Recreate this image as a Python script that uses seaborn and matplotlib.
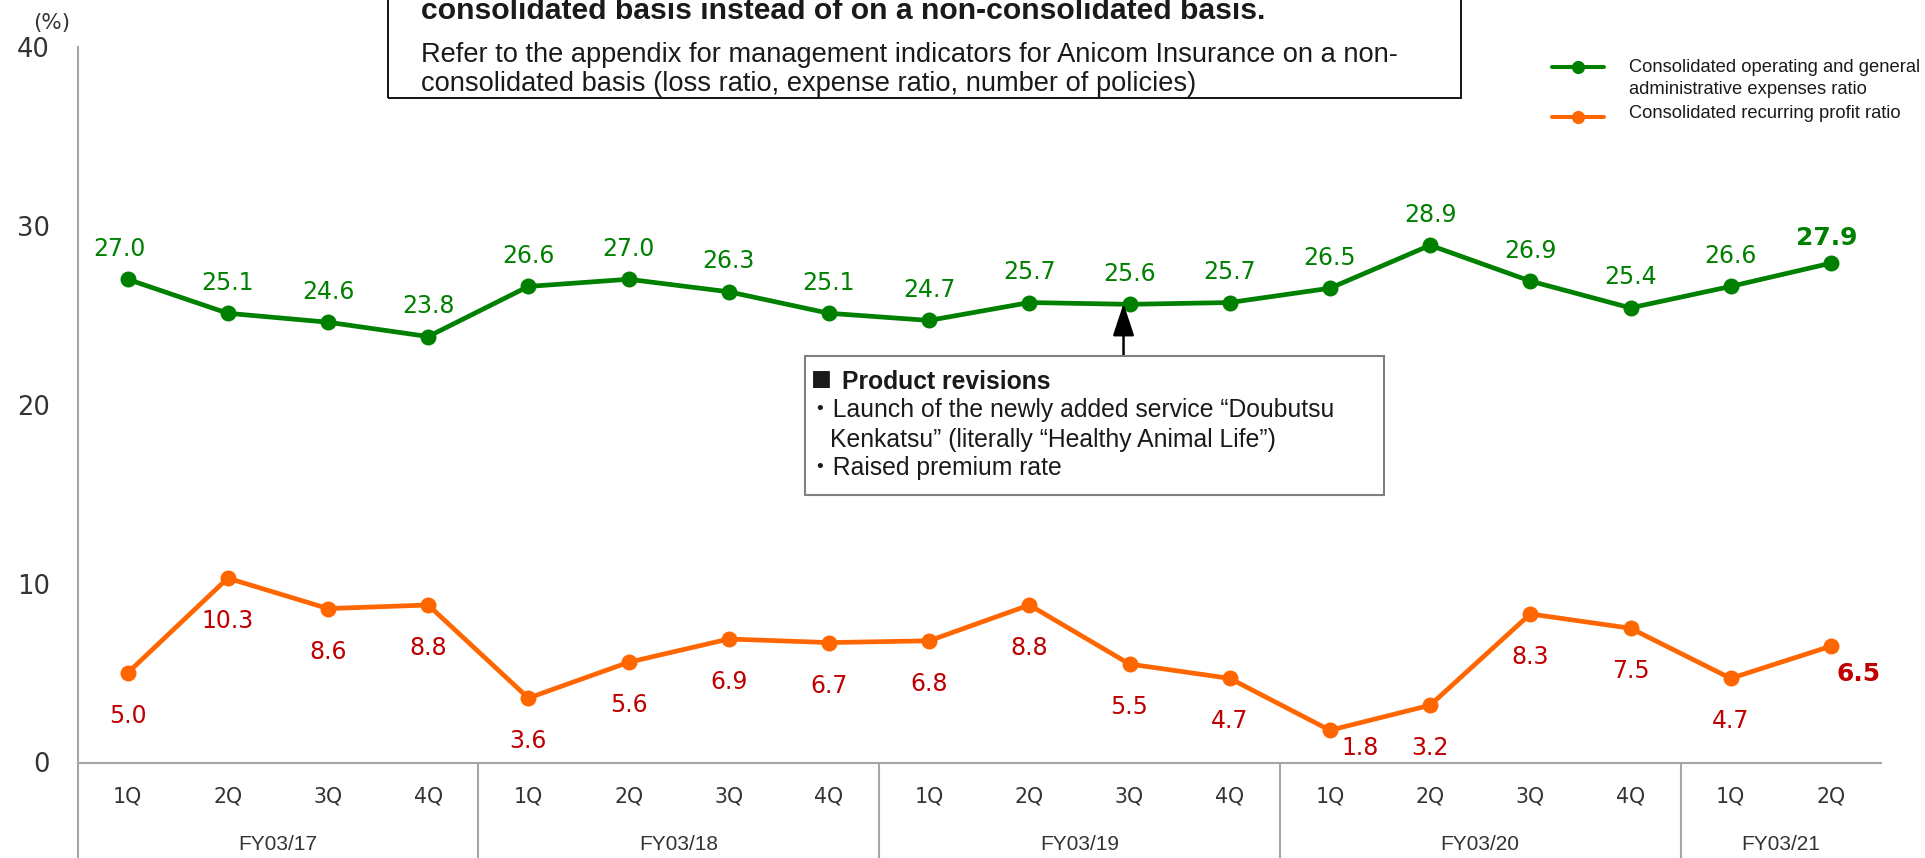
import matplotlib
matplotlib.use("Agg")
import matplotlib.pyplot as plt
from matplotlib.patches import Rectangle
from matplotlib.lines import Line2D
import pandas as pd
import seaborn as sns

# ---------------- data ----------------
quarters = ["1Q", "2Q", "3Q", "4Q"] * 4 + ["1Q", "2Q"]
fiscal_years = ["FY03/17", "FY03/18", "FY03/19", "FY03/20", "FY03/21"]
quarters_per_year = [4, 4, 4, 4, 2]
sga_ratio = [27.0, 25.1, 24.6, 23.8, 26.6, 27.0, 26.3, 25.1, 24.7,
             25.7, 25.6, 25.7, 26.5, 28.9, 26.9, 25.4, 26.6, 27.9]
profit_ratio = [5.0, 10.3, 8.6, 8.8, 3.6, 5.6, 6.9, 6.7, 6.8,
                8.8, 5.5, 4.7, 1.8, 3.2, 8.3, 7.5, 4.7, 6.5]
y_ticks = [0, 10, 20, 30, 40]
series_names = ["Consolidated operating and general\nadministrative expenses ratio",
                "Consolidated recurring profit ratio"]
note_lines = ["consolidated basis instead of on a non-consolidated basis.",
              "Refer to the appendix for management indicators for Anicom Insurance on a non-",
              "consolidated basis (loss ratio, expense ratio, number of policies)"]
callout_title = "Product revisions"
callout_lines = ["・Launch of the newly added service “Doubutsu",
                 "Kenkatsu” (literally “Healthy Animal Life”)",
                 "・Raised premium rate"]
callout_index = 10

# ---------------- style ----------------
GREEN = "#008000"
ORANGE = "#FF6600"
RED = "#C00000"
TXT = "#333333"
AXIS = "#A6A6A6"

sns.set_theme(style="white")
plt.rcParams["font.family"] = ["DejaVu Sans"]

W, H = 1925, 858
fig = plt.figure(figsize=(W / 100, H / 100), dpi=100)


def fx(x):
    return x / W


def fy(y):
    return 1 - y / H


AX_L, AX_R, AX_T, AX_B = 77.5, 1881, 46.6, 762.5
ax = fig.add_axes([fx(AX_L), fy(AX_B), (AX_R - AX_L) / W, (AX_B - AX_T) / H])

n = len(sga_ratio)
df = pd.DataFrame({"pos": list(range(n)), "sga": sga_ratio, "profit": profit_ratio})

sns.lineplot(data=df, x="pos", y="sga", ax=ax, color=GREEN, lw=3.4, marker="o",
             markersize=11.5, markeredgewidth=0, legend=False, zorder=3)
sns.lineplot(data=df, x="pos", y="profit", ax=ax, color=ORANGE, lw=3.4, marker="o",
             markersize=11.5, markeredgewidth=0, legend=False, zorder=3)

ax.set_xlim(-0.5, n - 0.5)
ax.set_ylim(0, 40)
ax.set_xticks(range(n))
ax.set_xticklabels(quarters, fontsize=14.8, color=TXT)
ax.set_yticks(y_ticks)
ax.set_yticklabels([str(t) for t in y_ticks], fontsize=18.5, color=TXT)
ax.tick_params(axis="x", length=0, pad=17)
ax.tick_params(axis="y", length=0, pad=20)
ax.set_xlabel("")
ax.set_ylabel("")
for s in ["top", "right"]:
    ax.spines[s].set_visible(False)
for s in ["left", "bottom"]:
    ax.spines[s].set_color(AXIS)
    ax.spines[s].set_linewidth(1.5)

# (%) unit label
fig.text(fx(52), fy(23), "(%)", fontsize=15.5, color=TXT, ha="center", va="center")

# group separators and fiscal-year labels
bounds = [-0.5]
for c in quarters_per_year:
    bounds.append(bounds[-1] + c)
below = -(H - AX_B) / (AX_B - AX_T)
xt = ax.get_xaxis_transform()
ax.vlines(bounds[:-1], below, 0, transform=xt, colors=AXIS, lw=1.5, clip_on=False)
for fyl, a, b in zip(fiscal_years, bounds[:-1], bounds[1:]):
    ax.text((a + b) / 2, -(845 - AX_B) / (AX_B - AX_T), fyl, transform=xt,
            ha="center", va="center", fontsize=15, color=TXT,
            family=["Liberation Sans"])

# data labels
for i, v in enumerate(sga_ratio):
    last = i == n - 1
    dx, dy = 0, 22
    if i == 0:
        dx = -6
    if last:
        dx, dy = -3, 18
    ax.annotate(f"{v:.1f}", (i, v), xytext=(dx, dy),
                textcoords="offset points", ha="center", va="center",
                fontsize=18 if last else 17,
                fontweight="bold" if last else "normal", color=GREEN)
for i, v in enumerate(profit_ratio):
    last = i == n - 1
    dx, dy = 0, -31
    if i == 12:
        dx, dy = 22, -13
    if last:
        dx, dy = 20, -20
    ax.annotate(f"{v:.1f}", (i, v), xytext=(dx, dy),
                textcoords="offset points", ha="center", va="center",
                fontsize=18 if last else 17,
                fontweight="bold" if last else "normal", color=RED)

# legend (manual, handle aligned with first text line)
for name, color, ly in zip(series_names, [GREEN, ORANGE], [67, 117]):
    fig.add_artist(Line2D([fx(1552), fx(1578), fx(1604)], [fy(ly)] * 3,
                          transform=fig.transFigure, color=color, lw=2.9,
                          marker="o", markersize=9.5, markevery=[1],
                          markeredgewidth=0))
fig.text(fx(1629), fy(68), series_names[0].split("\n")[0], fontsize=13.2,
         color="#1a1a1a", ha="left", va="center", family=["Liberation Sans"])
fig.text(fx(1629), fy(90), series_names[0].split("\n")[1], fontsize=13.2,
         color="#1a1a1a", ha="left", va="center", family=["Liberation Sans"])
fig.text(fx(1629), fy(113), series_names[1], fontsize=13.2,
         color="#1a1a1a", ha="left", va="center", family=["Liberation Sans"])

# top note box
fig.add_artist(Rectangle((fx(388), fy(98)), (1461 - 388) / W, 130 / H,
                         transform=fig.transFigure, fill=False, ec="black",
                         lw=1.3, clip_on=False))
fig.text(fx(421), fy(11), note_lines[0], fontsize=21.7, fontweight="bold",
         color="#1a1a1a", ha="left", va="center", family=["Liberation Sans"])
fig.text(fx(421), fy(55), note_lines[1], fontsize=19.6,
         color="#1a1a1a", ha="left", va="center", family=["Liberation Sans"])
fig.text(fx(421), fy(84), note_lines[2], fontsize=19.6,
         color="#1a1a1a", ha="left", va="center", family=["Liberation Sans"])

# callout box
fig.add_artist(Rectangle((fx(805), fy(495)), (1384 - 805) / W, (495 - 356) / H,
                         transform=fig.transFigure, fc="white", ec="#7F7F7F",
                         lw=1.5, zorder=5))
cf = ["Liberation Sans", "Noto Sans CJK JP"]
fig.text(fx(811), fy(381), "■", fontsize=25, color="#1a1a1a", ha="left",
         va="center", family=cf, zorder=6)
fig.text(fx(842), fy(382), callout_title, fontsize=17.8, fontweight="bold",
         color="#1a1a1a", ha="left", va="center", family=cf, zorder=6)
fig.text(fx(808), fy(410), callout_lines[0], fontsize=17.8,
         color="#1a1a1a", ha="left", va="center", family=cf, zorder=6)
fig.text(fx(830), fy(440), callout_lines[1], fontsize=17.8,
         color="#1a1a1a", ha="left", va="center", family=cf, zorder=6)
fig.text(fx(808), fy(468), callout_lines[2], fontsize=17.8,
         color="#1a1a1a", ha="left", va="center", family=cf, zorder=6)

# arrow from callout to the point
tail_y = (AX_B - 356) / (AX_B - AX_T) * 40
ax.annotate("", xy=(callout_index - 0.06, sga_ratio[callout_index] + 0.05),
            xytext=(callout_index - 0.06, tail_y),
            arrowprops=dict(arrowstyle="-|>,head_length=1.0,head_width=0.33",
                            mutation_scale=20, lw=1.8, color="black",
                            shrinkA=0, shrinkB=0), zorder=4)

fig.savefig("out.png", dpi=100)
